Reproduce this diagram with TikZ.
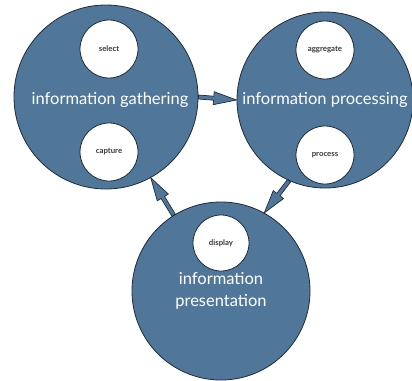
\documentclass[tikz,border=0pt]{standalone}
\usepackage{fontspec}
\setmainfont{Lato}
\usetikzlibrary{calc}
\definecolor{blob}{HTML}{50779A}
\definecolor{edge}{HTML}{1E2B38}
\definecolor{smalltext}{HTML}{3A3A3A}
\tikzset{
  bigcircle/.style={circle, fill=blob, draw=edge, line width=0.8pt, inner sep=0pt},
  smallcircle/.style={circle, fill=white, draw=edge, line width=0.8pt, minimum size=58pt, inner sep=0pt,
     font=\fontsize{7.8}{9}\selectfont\bfseries, text=smalltext},
  bigtext/.style={text=white, font=\fontsize{16.5}{18}\selectfont, align=center, inner sep=0pt},
  blockarrow/.style={fill=blob, draw=edge, line width=0.7pt, line join=miter}
}
\newcommand{\blkarrow}[2]{%
  \path ($(#2)!23pt!(#1)$) coordinate (hb);
  \draw[blockarrow] ($(#1)!2pt!90:(#2)$) -- ($(hb)!2pt!90:(#2)$) -- ($(hb)!6.5pt!90:(#2)$) -- (#2)
     -- ($(hb)!6.5pt!-90:(#2)$) -- ($(hb)!2pt!-90:(#2)$) -- ($(#1)!2pt!-90:(#2)$) -- cycle;
}
\begin{document}
\begin{tikzpicture}[x=1pt,y=-1pt]
\useasboundingbox (0,0) rectangle (412,380);
\fill[white] (0,0) rectangle (412,380);
% big circles
\node[bigcircle, minimum size=184pt] (g) at (106,97) {};
\node[bigcircle, minimum size=176pt] (p) at (325,100) {};
\node[bigcircle, minimum size=178pt] (r) at (221,291) {};
% small circles
\node[smallcircle] (sel) at (109,49) {select};
\node[smallcircle] (cap) at (109,152) {capture};
\node[smallcircle] (agg) at (325,50) {aggregate};
\node[smallcircle] (proc) at (325,155) {process};
\node[smallcircle, minimum size=56pt] (disp) at (221,243) {display};
% big labels
\node[bigtext] (gl) at (110,100) {information gathering};
\node[bigtext] (pl) at (325,100) {information processing};
\node[bigtext] (rl) at (221,291) {information\\[4pt]presentation};
% arrows
\coordinate (a1s) at (g.0);
\coordinate (a1e) at (p.180);
\coordinate (a2s) at (p.-114);
\coordinate (a2e) at (r.61);
\coordinate (a3s) at (r.122);
\coordinate (a3e) at (g.-61);
\blkarrow{a1s}{a1e}
\blkarrow{a2s}{a2e}
\blkarrow{a3s}{a3e}
\end{tikzpicture}
\end{document}
